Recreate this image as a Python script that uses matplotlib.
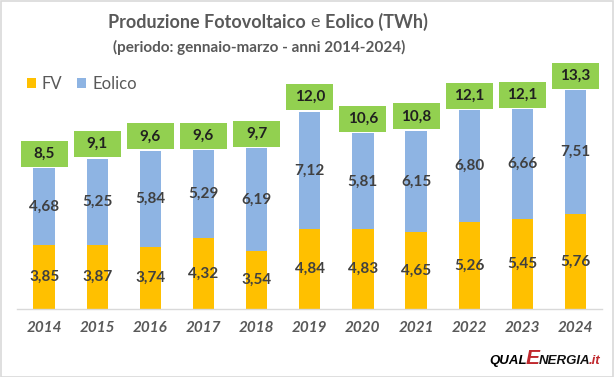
import matplotlib
matplotlib.use("Agg")
import matplotlib.pyplot as plt
from matplotlib.patches import Rectangle

years = ["2014", "2015", "2016", "2017", "2018", "2019", "2020", "2021", "2022", "2023", "2024"]
fv = [3.85, 3.87, 3.74, 4.32, 3.54, 4.84, 4.83, 4.65, 5.26, 5.45, 5.76]
eolico = [4.68, 5.25, 5.84, 5.29, 6.19, 7.12, 5.81, 6.15, 6.80, 6.66, 7.51]

C_FV = "#FFC000"
C_EO = "#8EB4E3"
C_GREEN = "#92D050"
C_TXT = "#404040"
C_GRAY = "#595959"
FONT = "Lato"

W, H = 614, 377
fig = plt.figure(figsize=(W / 100, H / 100), dpi=100)
plt.rcParams["font.family"] = [FONT, "DejaVu Sans"]

# axes: baseline at y=309px, left 17px, right 602px, top 60px
ax = fig.add_axes([17 / W, (H - 309) / H, (602 - 17) / W, (309 - 60) / H])
ppu = 16.5
ax.set_ylim(0, (309 - 60) / ppu)
ax.set_xlim(-0.51, 10.5)
for s in ["top", "right", "left"]:
    ax.spines[s].set_visible(False)
ax.spines["bottom"].set_color("#D9D9D9")
ax.spines["bottom"].set_linewidth(1.0)
ax.set_yticks([])
ax.set_xticks([])

x = list(range(len(years)))
bw = 0.4
ax.bar(x, fv, width=bw, color=C_FV, label="FV", zorder=2)
ax.bar(x, eolico, width=bw, bottom=fv, color=C_EO, label="Eolico", zorder=2)

box_w = 47 / 53.1
box_h = 26 / ppu
for i in x:
    f, e = fv[i], eolico[i]
    tot = f + e
    ax.text(i, f / 2, f"{f:.2f}".replace(".", ","), ha="center", va="center",
            fontsize=11, fontweight="bold", color=C_TXT, zorder=3)
    ax.text(i, f + e / 2, f"{e:.2f}".replace(".", ","), ha="center", va="center",
            fontsize=11, fontweight="bold", color=C_TXT, zorder=3)
    yb = tot + 1.5 / ppu
    ax.add_patch(Rectangle((i - box_w / 2, yb), box_w, box_h, facecolor=C_GREEN,
                           edgecolor="none", zorder=3, clip_on=False))
    ax.text(i, yb + box_h / 2, f"{tot:.1f}".replace(".", ","), ha="center", va="center",
            fontsize=11, fontweight="bold", color="#202020", zorder=4)
    ax.text(i, -19 / ppu, years[i], ha="center", va="center", fontsize=11,
            fontstyle="italic", fontweight="bold", color=C_GRAY)

# legend
leg = fig.legend(handles=ax.patches[:1] + ax.patches[len(x):len(x) + 1], labels=["FV", "Eolico"],
                 loc="center left", bbox_to_anchor=(20 / W, 1 - 84 / H), ncol=2, frameon=False,
                 fontsize=12, handlelength=0.55, handleheight=0.55, handletextpad=0.35,
                 columnspacing=0.9, borderaxespad=0, labelcolor=C_GRAY)

# title with mixed weight
fig.canvas.draw()
r = fig.canvas.get_renderer()
parts = [("Produzione Fotovoltaico ", "bold"), ("e ", "normal"), ("Eolico (TWh)", "bold")]
texts = []
for s, wgt in parts:
    t = fig.text(0, 1 - 22 / H, s, fontsize=13, fontweight=wgt, color=C_GRAY, va="center", ha="left")
    texts.append(t)
widths = [t.get_window_extent(r).width for t in texts]
total = sum(widths)
xpos = (268 - total / 2)
for t, wdt in zip(texts, widths):
    t.set_x(xpos / W)
    xpos += wdt
fig.text(259 / W, 1 - 47 / H, "(periodo: gennaio-marzo - anni 2014-2024)", fontsize=11,
         fontweight="bold", color=C_GRAY, ha="center", va="center")

# logo
lp = [("QUAL", "black", 9.5), ("E", "#C0282D", 15), ("NERGIA", "#111111", 9.5), (".it", "#C0282D", 9.5)]
lt = []
for s, c, fs in lp:
    t = fig.text(0, 1 - 364 / H, s, fontsize=fs, color=c, fontweight="bold", fontstyle="italic",
                 ha="left", va="baseline", family=["Liberation Sans", "DejaVu Sans"])
    lt.append(t)
ws = [t.get_window_extent(r).width for t in lt]
xp = 489
for t, wdt in zip(lt, ws):
    t.set_x(xp / W)
    xp += wdt - 1

# figure border
fig.add_artist(Rectangle((0.5 / W, 0.5 / H), 1 - 1.5 / W, 1 - 1.5 / H, transform=fig.transFigure,
                         fill=False, edgecolor="#D9D9D9", linewidth=1.2))

fig.savefig("out.png", dpi=100)
